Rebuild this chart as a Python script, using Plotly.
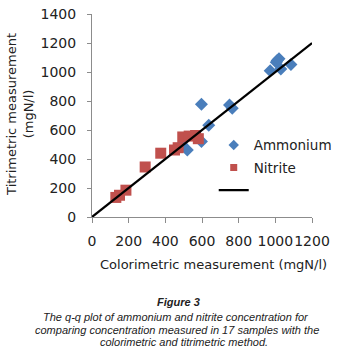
import plotly.graph_objects as go

# Data
ammonium_x = [490, 520, 597, 597, 637, 750, 765, 972, 1005, 1010, 1020, 1030, 1085]
ammonium_y = [500, 462, 520, 778, 632, 772, 750, 1008, 1068, 1080, 1092, 1020, 1052]

nitrite_x = [130, 150, 185, 290, 375, 450, 470, 495, 530, 565, 580]
nitrite_y = [135, 150, 185, 345, 440, 462, 478, 552, 558, 562, 540]

line_x = [0, 1200]
line_y = [0, 1200]

x_ticks = [0, 200, 400, 600, 800, 1000, 1200]
y_ticks = [0, 200, 400, 600, 800, 1000, 1200, 1400]

x_title = "Colorimetric measurement (mgN/l)"
y_title = "Titrimetric measurement<br>(mgN/l)"
caption_lines = [
    "<b>Figure 3</b>",
    "The q-q plot of ammonium and nitrite concentration for",
    "comparing concentration measured in 17 samples with the",
    "colorimetric and titrimetric method.",
]

W, H = 339, 356
# plot area in window pixels: x 92..312.5, y 14..217.5
L, R, T, B = 92, 339 - 312.5, 14, 356 - 217.5
pw = W - L - R
ph = H - T - B

def px2x(px):
    return (px - L) / pw

def py2y(py):
    return (H - B - py) / ph

BLUE = "#4A7EBB"
RED = "#C0504D"

fig = go.Figure()
fig.add_trace(go.Scatter(
    x=ammonium_x, y=ammonium_y, mode="markers", name="Ammonium",
    showlegend=False,
    marker=dict(symbol="diamond", size=10, color=BLUE),
))
fig.add_trace(go.Scatter(
    x=nitrite_x, y=nitrite_y, mode="markers", name="Nitrite",
    showlegend=False,
    marker=dict(symbol="square", size=11, color=RED),
))
fig.add_trace(go.Scatter(
    x=line_x, y=line_y, mode="lines", name="",
    showlegend=False,
    line=dict(color="black", width=2.2),
))
# legend entries (smaller symbols, as in the reference legend)
fig.add_trace(go.Scatter(
    x=[None], y=[None], mode="markers", name="Ammonium", legendgroup="a",
    marker=dict(symbol="diamond", size=8, color=BLUE),
))
fig.add_trace(go.Scatter(
    x=[None], y=[None], mode="markers", name="Nitrite", legendgroup="n",
    marker=dict(symbol="square", size=7, color=RED),
))
fig.add_trace(go.Scatter(
    x=[None], y=[None], mode="lines", name=" ", legendgroup="l",
    line=dict(color="black", width=2.2),
))

axis_font = dict(family="DejaVu Sans", size=14, color="#222222")
fig.update_xaxes(
    range=[0, 1200], tickvals=x_ticks, ticktext=[str(v) for v in x_ticks],
    showgrid=False, zeroline=False, showline=True, linecolor="#8c8c8c", linewidth=1,
    ticks="outside", ticklen=5, tickcolor="#8c8c8c", tickfont=axis_font,
    ticklabelstandoff=6, tickangle=0, automargin=False,
)
fig.update_yaxes(
    range=[0, 1400], tickvals=y_ticks, ticktext=[str(v) for v in y_ticks],
    showgrid=False, zeroline=False, showline=True, linecolor="#8c8c8c", linewidth=1,
    ticks="outside", ticklen=4, tickcolor="#8c8c8c", tickfont=axis_font,
    ticklabelstandoff=8, automargin=False,
)

annotations = [
    dict(text=x_title, xref="paper", yref="paper", x=px2x(214), y=py2y(265),
         xanchor="center", yanchor="middle", showarrow=False,
         font=dict(family="DejaVu Sans", size=13, color="#222222")),
    dict(text=y_title, xref="paper", yref="paper", x=px2x(20), y=py2y(115),
         xanchor="center", yanchor="middle", showarrow=False, textangle=-90,
         font=dict(family="DejaVu Sans", size=13, color="#222222")),
]
cap_pos = [(179, 303), (176, 318), (177, 331), (184, 343)]
for txt, (cx, cy) in zip(caption_lines, cap_pos):
    annotations.append(dict(
        text="<i>" + txt + "</i>", xref="paper", yref="paper",
        x=px2x(cx), y=py2y(cy), xanchor="center", yanchor="middle",
        showarrow=False,
        font=dict(family="Liberation Sans", size=11, color="#222222"),
    ))

fig.update_layout(
    width=W, height=H,
    margin=dict(l=L, r=R, t=T, b=B, pad=0, autoexpand=False),
    paper_bgcolor="white", plot_bgcolor="white",
    showlegend=True,
    legend=dict(
        x=px2x(214), y=py2y(130), xanchor="left", yanchor="top",
        bgcolor="rgba(0,0,0,0)", tracegroupgap=2,
        font=dict(family="DejaVu Sans", size=13.5, color="#222222"),
    ),
    annotations=annotations,
)

fig.write_html(
    "out.html",
    config={"displayModeBar": False},
    post_script="document.body.style.margin='0px';document.body.style.overflow='hidden';",
)
